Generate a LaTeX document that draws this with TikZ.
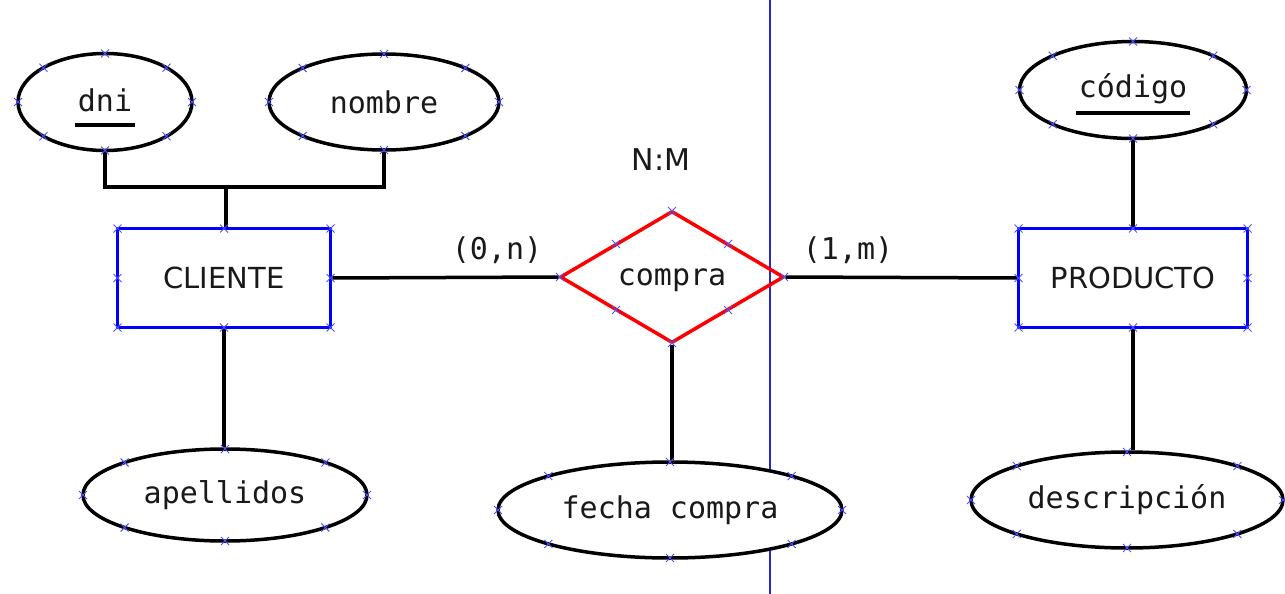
\documentclass[tikz,border=0pt]{standalone}
\usepackage{fontspec}
\setmainfont{DejaVu Sans}
\setmonofont{DejaVu Sans Mono}
\usetikzlibrary{shapes.geometric}

\definecolor{entblue}{RGB}{0,0,255}
\definecolor{relred}{RGB}{255,0,0}
\definecolor{divblue}{RGB}{40,40,200}
\definecolor{handle}{RGB}{80,80,255}
\definecolor{ink}{RGB}{25,25,25}

\tikzset{
  lbl/.style={font=\fontsize{29}{33}\selectfont\rmfamily, text=ink},
  mono/.style={font=\fontsize{30}{34}\selectfont\ttfamily, text=ink},
  entity/.style={draw=entblue, line width=3.5pt, rectangle, inner sep=0pt,
                 minimum height=99pt, lbl},
  attr/.style={draw=black, fill=white, line width=3.5pt, ellipse, inner sep=0pt, mono},
  rel/.style={draw=relred, line width=3.5pt, diamond, inner sep=0pt, aspect=1.7,
              minimum width=224pt, minimum height=132pt, text depth=0pt, mono},
  link/.style={draw=black, line width=3.5pt},
  keyline/.style={draw=black, line width=4pt},
  divider/.style={draw=divblue, line width=2pt},
  mkline/.style={draw=handle, line width=0.9pt},
  xmark/.pic={\draw[mkline] (-4,-4) -- (4,4) (-4,4) -- (4,-4);}
}

% selection handles around ellipses, boxes and the relationship diamond
\newcommand\ellmarks[4]{\foreach \t in {0,45,...,315} \pic at ({#1+#3*cos(\t)},{#2+#4*sin(\t)}) {xmark};}
\newcommand\boxmarks[4]{\foreach \u/\v in {-1/-1,0/-1,1/-1,-1/0,1/0,-1/1,0/1,1/1} \pic at ({#1+\u*#3},{#2+\v*#4}) {xmark};}
\newcommand\diamarks[4]{\foreach \u/\v in {1/0,0/1,-1/0,0/-1,.5/.5,-.5/.5,.5/-.5,-.5/-.5} \pic at ({#1+\u*#3},{#2+\v*#4}) {xmark};}

\begin{document}
\begin{tikzpicture}[x=1pt, y=-1pt]
\useasboundingbox (0,0) rectangle (1285,594);

% dividing line
\coordinate (dtop) at (770,0);
\coordinate (dbot) at (770,594);
\draw[divider] (dtop) -- (dbot);

% entities
\node[entity, minimum width=213pt] (cli) at (224,278) {CLIENTE};
\node[entity, minimum width=229pt] (prod) at (1133,278) {PRODUCTO};

% relationship
\node[rel] (compra) at (672,277) {compra};
\node[lbl, font=\fontsize{30}{34}\selectfont] (card) at (661,160) {N:M};

% attributes
\node[attr, minimum width=174pt, minimum height=97pt] (dni) at (105,102) {};
\node[mono, inner sep=0pt] (dnit) at (105,100) {dni};
\draw[keyline] ([xshift=-3pt, yshift=-14pt]dnit.base west) -- ([xshift=3pt, yshift=-14pt]dnit.base east);

\node[attr, minimum width=230pt, minimum height=96pt] (nombre) at (384,102) {nombre};
\node[attr, minimum width=284pt, minimum height=92pt] (apellidos) at (225,495) {apellidos};
\node[attr, minimum width=344pt, minimum height=96pt] (fecha) at (670,510) {fecha compra};

\node[attr, minimum width=227pt, minimum height=97pt] (codigo) at (1133,90) {};
\node[mono, inner sep=0pt] (codigot) at (1133,89) {código};
\draw[keyline] ([xshift=-3pt, yshift=-15pt]codigot.base west) -- ([xshift=3pt, yshift=-15pt]codigot.base east);

\node[attr, minimum width=312pt, minimum height=96pt] (desc) at (1127,500) {descripción};

% connectors
\coordinate (join) at (226,187);
\draw[link] (dni.south) |- (join);
\draw[link] (nombre.south) |- (join);
\draw[link] (join) -- (join |- cli.north);
\draw[link] (cli.south) -- (apellidos.north -| cli.south);
\draw[link] (cli.east) -- (compra.west);
\draw[link] (compra.east) -- (prod.west);
\draw[link] (compra.south) -- (fecha.north -| compra.south);
\draw[link] (codigo.south) -- (prod.north);
\draw[link] (prod.south) -- (desc.north -| prod.south);

% cardinalities
\node[mono] (cmin) at (497,250) {(0,n)};
\node[mono] (pmin) at (848,250) {(1,m)};

% handles
\ellmarks{105}{102}{87}{48.5}
\ellmarks{384}{102}{115}{48}
\ellmarks{225}{495}{142}{46}
\ellmarks{670}{510}{172}{48}
\ellmarks{1133}{90}{113.5}{48.5}
\ellmarks{1127}{500}{156}{48}
\boxmarks{224}{278}{106.5}{49.5}
\boxmarks{1133}{278}{114.5}{49.5}
\diamarks{672}{277}{112}{66}
\end{tikzpicture}
\end{document}
